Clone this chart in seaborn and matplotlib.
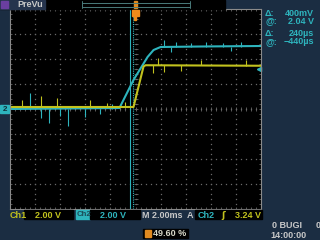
import numpy as np
import pandas as pd
import matplotlib
matplotlib.use("Agg")
import matplotlib.pyplot as plt
import seaborn as sns
from matplotlib.patches import Rectangle

# ---------------- data (time in ms, volts) ----------------
ch2_t = [-10.0, -1.28, -0.16, 0.96, 1.44, 2.0, 5.2, 10.0]
ch2_v = [0.0, 0.08, 2.32, 4.16, 4.72, 4.96, 5.0, 5.04]
ch1_t = [-10.0, -0.16, 0.64, 0.8, 10.0]
ch1_v = [0.16, 0.16, 3.40, 3.50, 3.46]

# noise spikes: time, low, high
ch2_spk_t = [-8.4, -7.52, -6.88, -6.0, -5.36, -4.0, -2.8, -1.84, 2.24, 2.8, 3.2, 4.4, 5.6, 6.96, 7.6, 8.4]
ch2_spk_lo = [0.0, -0.72, -1.12, -0.56, -1.36, -0.64, -0.4, 0.0, 5.0, 4.56, 5.0, 5.0, 5.0, 5.0, 4.64, 5.0]
ch2_spk_hi = [1.28, 0.0, 0.0, 0.0, 0.0, 0.0, 0.0, 0.4, 5.52, 5.0, 5.36, 5.28, 5.36, 5.28, 5.0, 5.36]
ch1_spk_t = [-9.04, -7.52, -6.24, -3.6, -2.24, -0.8, 1.36, 1.76, 2.24, 3.6, 5.2, 8.8]
ch1_spk_lo = [0.16, 0.16, 0.16, 0.16, 0.16, 0.16, 2.88, 3.5, 2.96, 3.04, 3.5, 3.46]
ch1_spk_hi = [0.72, 1.04, 0.88, 0.72, 0.48, 0.56, 3.5, 4.08, 3.5, 3.5, 3.92, 3.92]

cursor_t = [-0.44, -0.20]

right_labels = ["\u0394:", "@:", "\u0394:", "@:"]
right_values = ["400mV", "2.04 V", "240\u00b5s", "\u2212440\u00b5s"]

# ---------------- style ----------------
sns.set_theme(style="dark")
plt.rcParams['font.family'] = ['Liberation Sans', 'DejaVu Sans']

BG = "#1b2d42"
CYAN = "#2eb4bd"
YEL = "#c2c21e"
GRID = "#6a6a6a"
W, H = 320, 240

fig = plt.figure(figsize=(3.2, 2.4), dpi=100, facecolor=BG)

def frect(x, y, w, h, color, **kw):
    fig.patches.append(Rectangle((x / W, 1 - (y + h) / H), w / W, h / H,
                                 transform=fig.transFigure, color=color, **kw))

def ftext(x, y, s, color, size=6.5, ha="left", **kw):
    fig.text(x / W, 1 - y / H, s, color=color, fontsize=size, ha=ha,
             va="center", fontweight="bold", **kw)

# plot area
L, T, R, B = 10, 9, 261, 209
ax = fig.add_axes([L / W, 1 - B / H, (R - L) / W, (B - T) / H])
ax.set_facecolor("black")
ax.set_xlim(-10, 10)
ax.set_ylim(-8, 8)
ax.set_xticks([]); ax.set_yticks([])
for s in ax.spines.values():
    s.set_color("#8a8a8a"); s.set_linewidth(0.8)

# graticule
div_x = np.arange(-10, 10.01, 2)
div_y = np.arange(-8, 8.01, 2)
sub_x = np.arange(-10, 10.01, 0.4)
sub_y = np.arange(-8, 8.01, 0.4)
for x in div_x[1:-1]:
    ax.plot(np.full_like(sub_y, x), sub_y, ls="", marker="s", ms=0.9, color=GRID, mew=0)
for y in div_y[1:-1]:
    ax.plot(sub_x, np.full_like(sub_x, y), ls="", marker="s", ms=0.9, color=GRID, mew=0)
ax.plot(sub_x, np.zeros_like(sub_x), ls="", marker="|", ms=3, mew=0.6, color=GRID)
ax.plot(np.zeros_like(sub_y), sub_y, ls="", marker="_", ms=3, mew=0.6, color=GRID)
for yb in (-8, 8):
    ax.plot(sub_x, np.full_like(sub_x, yb), ls="", marker="|", ms=3, mew=0.6, color=GRID)
for xb in (-10, 10):
    ax.plot(np.full_like(sub_y, xb), sub_y, ls="", marker="_", ms=3, mew=0.6, color=GRID)

# cursors
ax.axvline(cursor_t[0], color=CYAN, lw=0.8)
ax.axvline(cursor_t[1], color=CYAN, lw=0.8, ls=(0, (1, 1)))

# traces
df2 = pd.DataFrame({"t": ch2_t, "v": ch2_v})
df1 = pd.DataFrame({"t": ch1_t, "v": ch1_v})
sns.lineplot(data=df2, x="t", y="v", ax=ax, color=CYAN, lw=1.5, sort=False, estimator=None)
ax.vlines(ch2_spk_t, ch2_spk_lo, ch2_spk_hi, color=CYAN, lw=0.8)
sns.lineplot(data=df1, x="t", y="v", ax=ax, color=YEL, lw=1.5, sort=False, estimator=None)
ax.vlines(ch1_spk_t, ch1_spk_lo, ch1_spk_hi, color=YEL, lw=0.8)
ax.set_xlabel(""); ax.set_ylabel("")
ax.set_xlim(-10, 10); ax.set_ylim(-8, 8)

# trigger level marker at right edge
ax.plot([9.85], [3.24], marker="<", ms=3, color=CYAN, clip_on=False)

# ---------------- screen chrome ----------------
frect(0, 0, 225, 8.5, "black")
frect(0, 0, 45, 8.5, "#26344d")
frect(1, 1, 7, 6.5, "#6a3fa0")
ftext(17, 4.3, "PreVu", "#c8c8c8")
for yy in (3, 7):
    fig.lines.append(plt.Line2D([82 / W, 190 / W], [1 - yy / H, 1 - yy / H],
                                transform=fig.transFigure, color="#4a7a7a", lw=0.7))
for xb in (82, 190):
    fig.lines.append(plt.Line2D([xb / W, xb / W], [1 - 0.5 / H, 1 - 8 / H],
                                transform=fig.transFigure, color="#4a7a7a", lw=0.7))
frect(133.5, 1, 3, 7, "#e08a20")
frect(131.5, 10, 7, 6, "#f08a1a")
frect(134, 15, 2, 5, "#f08a1a")

# channel 2 ground marker
frect(0, 105, 9, 8, CYAN)
ftext(4.5, 109.2, "2", "#10303a", size=5.8, ha="center")

# right panel
for i, (lab, val) in enumerate(zip(right_labels, right_values)):
    yy = [13, 21, 34, 42][i]
    ftext(265, yy, lab, CYAN)
    ftext(314, yy, val, CYAN, ha="right")

# bottom status line
frect(24, 210, 49, 9, "black")
frect(76, 210, 14, 9, CYAN)
frect(90, 210, 50, 9, "black")
frect(195, 210, 67, 9, "black")
ftext(10, 215, "Ch1", YEL)
ftext(35, 215, "2.00 V", YEL)
ftext(77, 215, "Ch2", "#1b4a55", size=5.6)
ftext(100, 215, "2.00 V", CYAN)
ftext(142, 215, "M 2.00ms", "#c8c8c8")
ftext(187, 215, "A", "#c8c8c8")
ftext(198, 215, "Ch2", CYAN)
ftext(221, 215, "\u0283", YEL, family=['DejaVu Sans'])
ftext(235, 215, "3.24 V", YEL)

frect(143, 229, 45, 9, "black")
frect(145, 230, 6, 7, "#e08a20")
ftext(153, 233.5, "49.60 %", "#d8d8c8")
ftext(272, 226, "0 BUGI", "#c8c8c8")
ftext(316, 226, "0", "#c8c8c8")
ftext(270, 236, "14:00:00", "#c8c8c8")

fig.savefig("out.png", dpi=100, facecolor=BG)
